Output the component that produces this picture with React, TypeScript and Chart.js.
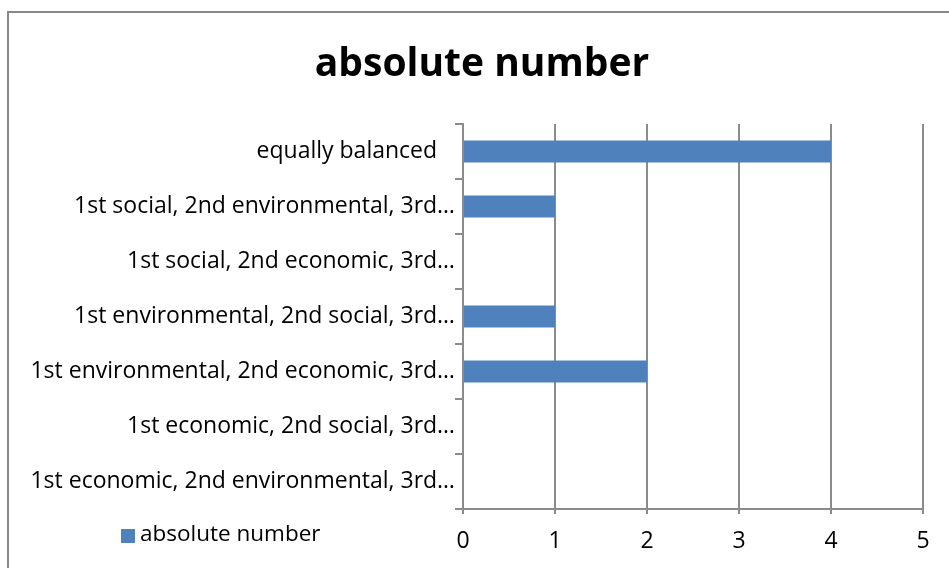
import React, { useEffect, useRef } from "react";
import { Chart, registerables } from "chart.js";

Chart.register(...registerables);

const categories: string[] = [
  "equally balanced   ",
  "1st social, 2nd environmental, 3rd…",
  "1st social, 2nd economic, 3rd…",
  "1st environmental, 2nd social, 3rd…",
  "1st environmental, 2nd economic, 3rd…",
  "1st economic, 2nd social, 3rd…",
  "1st economic, 2nd environmental, 3rd…",
];
const absoluteNumber: number[] = [4, 1, 0, 1, 2, 0, 0];
const seriesLabel = "absolute number";
const chartTitle = "absolute number";
const xTicks: number[] = [0, 1, 2, 3, 4, 5];

const FONT = "'Open Sans', 'Liberation Sans', sans-serif";
const BAR = "#4F81BD";
const LINE = "#8c8c8c";

// white background, outer frame, and the heading centred on the frame
const framePlugin = {
  id: "frame",
  beforeDraw(chart: Chart) {
    const { ctx, width, height } = chart;
    ctx.save();
    ctx.fillStyle = "#fff";
    ctx.fillRect(0, 0, width, height);
    ctx.strokeStyle = "#888";
    ctx.lineWidth = 2;
    ctx.strokeRect(8, 12, width + 40, height + 40);
    ctx.fillStyle = "#000";
    ctx.font = `bold 39px ${FONT}`;
    ctx.textAlign = "center";
    ctx.textBaseline = "middle";
    ctx.fillText(chartTitle, 482, 65);
    ctx.restore();
  },
};

// legend sitting at the lower left, next to the x tick labels
const legendPlugin = {
  id: "sideLegend",
  afterDraw(chart: Chart) {
    const { ctx } = chart;
    const ds = chart.data.datasets[0];
    ctx.save();
    ctx.fillStyle = ds.backgroundColor as string;
    ctx.fillRect(121, 529, 14, 14);
    ctx.fillStyle = "#000";
    ctx.font = `22.5px ${FONT}`;
    ctx.textBaseline = "middle";
    ctx.textAlign = "left";
    ctx.fillText(ds.label as string, 140, 535);
    ctx.restore();
  },
};

export default function App() {
  const ref = useRef<HTMLCanvasElement | null>(null);

  useEffect(() => {
    if (!ref.current) return;
    const chart = new Chart(ref.current, {
      type: "bar",
      data: {
        labels: categories,
        datasets: [
          {
            label: seriesLabel,
            data: absoluteNumber,
            backgroundColor: BAR,
            borderWidth: 0,
            barPercentage: 0.4,
            categoryPercentage: 1,
          },
        ],
      },
      options: {
        indexAxis: "y",
        animation: false,
        responsive: false,
        layout: { padding: { left: 8, right: 26, top: 124, bottom: 0 } },
        plugins: {
          legend: { display: false },
          tooltip: { enabled: false },
          title: { display: false },
        },
        scales: {
          x: {
            min: 0,
            max: 5,
            afterBuildTicks: (s: any) => {
              s.ticks = xTicks.map((v) => ({ value: v }));
            },
            afterFit: (s: any) => {
              s.height = 59;
            },
            grid: { color: LINE, lineWidth: 2, tickLength: 5 },
            border: { color: LINE, width: 2 },
            ticks: {
              color: "#000",
              padding: 14,
              font: { family: FONT, size: 23 },
            },
          },
          y: {
            afterFit: (s: any) => {
              s.width = 455;
            },
            grid: { drawOnChartArea: false, color: LINE, lineWidth: 2, tickLength: 8 },
            border: { color: LINE, width: 2 },
            ticks: {
              color: "#000",
              padding: 0,
              autoSkip: false,
              font: { family: FONT, size: 23 },
            },
          },
        },
      },
      plugins: [framePlugin, legendPlugin],
    });
    return () => chart.destroy();
  }, []);

  return (
    <div style={{ position: "absolute", left: 0, top: 0, width: 949, height: 568, overflow: "hidden" }}>
      <canvas ref={ref} width={949} height={568} />
    </div>
  );
}
